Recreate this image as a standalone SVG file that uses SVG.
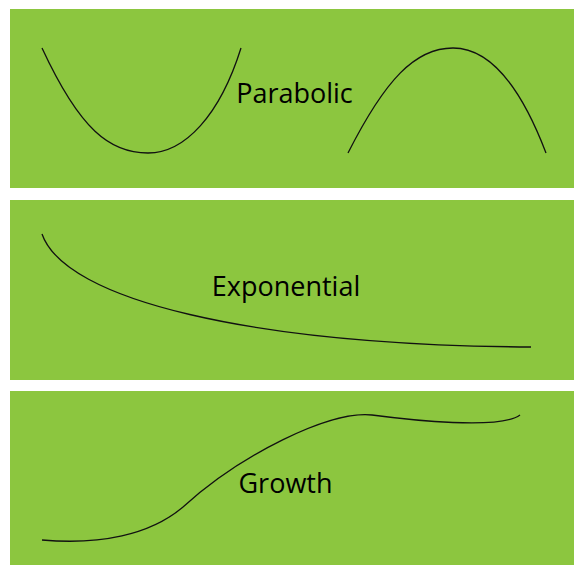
<svg xmlns="http://www.w3.org/2000/svg" width="574" height="565" viewBox="0 0 574 565">
<style>
.panel{fill:#8cc63f;}
.curve{fill:none;stroke:#111;stroke-width:1.3;}
.label{font-family:"Open Sans","Noto Sans",sans-serif;font-size:27px;fill:#000;text-anchor:middle;}
</style>
<rect width="574" height="565" fill="#fff"/>
<g id="parabolic">
<rect class="panel" x="10" y="9" width="564" height="179"/>
<text class="label" x="294.5" y="103">Parabolic</text>
</g>
<g id="exponential">
<rect class="panel" x="10" y="200" width="564" height="180"/>
<text class="label" x="286" y="296">Exponential</text>
</g>
<g id="growth">
<rect class="panel" x="10" y="391" width="564" height="174"/>
<text class="label" x="285.5" y="493">Growth</text>
</g>
<g id="connectors">
<path class="curve" d="M42,48 C80,130 110,153 148,153 C185,153 220,115 241,48"/>
<path class="curve" d="M348,153 C385,80 415,48 453,48 C490,48 520,85 546,153"/>
<path class="curve" d="M42,234 C65,300 250,345 531,347"/>
<path class="curve" d="M42,540 C100,545 150,535 183,507 C240,455 330,410 372,415 C410,420 500,430 520,415"/>
</g>
</svg>
